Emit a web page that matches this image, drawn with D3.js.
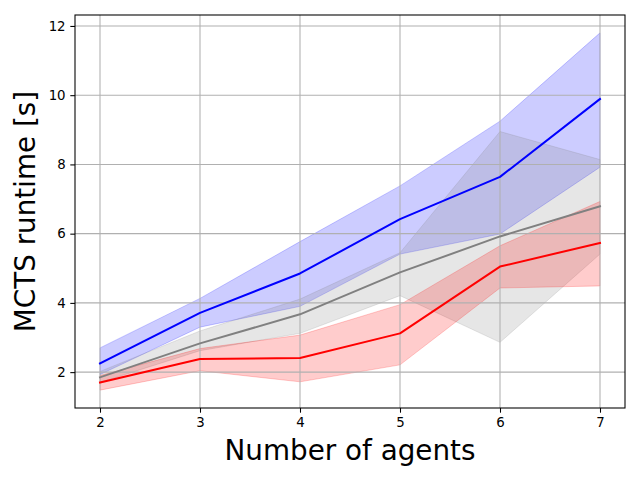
<!DOCTYPE html>
<html>
<head>
<meta charset="utf-8">
<script src="https://cdn.jsdelivr.net/npm/d3@7"></script>
<style>
html,body{margin:0;padding:0;background:#fff;}
svg{display:block;font-family:"DejaVu Sans",sans-serif;}
</style>
</head>
<body>
<div id="chart"></div>
<script>
// ---- data ----
const agents = [2, 3, 4, 5, 6, 7];
const blueMean  = [2.25, 3.71, 4.85, 6.42, 7.64, 9.89];
const blueLow   = [1.93, 3.30, 3.90, 5.41, 5.99, 7.92];
const blueHigh  = [2.70, 4.13, 5.77, 7.38, 9.25, 11.80];
const grayMean  = [1.85, 2.83, 3.67, 4.88, 5.92, 6.79];
const grayLow   = [1.70, 2.62, 3.12, 4.21, 2.86, 5.41];
const grayHigh  = [2.02, 3.19, 4.11, 5.45, 8.95, 8.14];
const redMean   = [1.70, 2.38, 2.41, 3.12, 5.05, 5.73];
const redLow    = [1.48, 2.04, 1.72, 2.21, 4.43, 4.49];
const redHigh   = [1.90, 2.68, 3.07, 3.95, 5.65, 6.93];
const yTicks = [2, 4, 6, 8, 10, 12];
const xTicks = [2, 3, 4, 5, 6, 7];
const xLabel = "Number of agents";
const yLabel = "MCTS runtime [s]";

const series = [
  {mean: blueMean, low: blueLow, high: blueHigh, color: "#0000ff"},
  {mean: grayMean, low: grayLow, high: grayHigh, color: "#808080"},
  {mean: redMean,  low: redLow,  high: redHigh,  color: "#ff0000"}
];

// ---- layout ----
const W = 640, H = 480;
const m = {left: 75, right: 15, top: 15, bottom: 72};
const iw = W - m.left - m.right, ih = H - m.top - m.bottom;

const allY = [].concat(blueLow, blueHigh, grayLow, grayHigh, redLow, redHigh);
const yMin = d3.min(allY), yMax = d3.max(allY);
const yPad = (yMax - yMin) * 0.05;
const xMin = d3.min(agents), xMax = d3.max(agents);
const xPad = (xMax - xMin) * 0.05;

const x = d3.scaleLinear().domain([xMin - xPad, xMax + xPad]).range([0, iw]);
const y = d3.scaleLinear().domain([yMin - yPad, yMax + yPad]).range([ih, 0]);

const svg = d3.select("#chart").append("svg").attr("width", W).attr("height", H);
const g = svg.append("g").attr("transform", `translate(${m.left},${m.top})`);

// bands
const area = d3.area()
  .x((d, i) => x(agents[i]))
  .y0(d => y(d[0]))
  .y1(d => y(d[1]));
series.forEach(s => {
  const pts = agents.map((a, i) => [s.low[i], s.high[i]]);
  g.append("path")
    .attr("d", area(pts))
    .attr("fill", s.color).attr("fill-opacity", 0.2)
    .attr("stroke", s.color).attr("stroke-opacity", 0.2).attr("stroke-width", 1);
});

// grid (drawn above bands, below lines as in matplotlib)
const grid = g.append("g");
grid.selectAll("line.gx").data(xTicks).enter().append("line")
  .attr("x1", d => x(d)).attr("x2", d => x(d)).attr("y1", 0).attr("y2", ih)
  .attr("stroke", "#b0b0b0").attr("stroke-width", 1.07);
grid.selectAll("line.gy").data(yTicks).enter().append("line")
  .attr("y1", d => y(d)).attr("y2", d => y(d)).attr("x1", 0).attr("x2", iw)
  .attr("stroke", "#b0b0b0").attr("stroke-width", 1.07);

// mean lines
const line = d3.line().x((d, i) => x(agents[i])).y(d => y(d));
series.forEach(s => {
  g.append("path").attr("d", line(s.mean))
    .attr("fill", "none").attr("stroke", s.color).attr("stroke-width", 2)
    .attr("stroke-linejoin", "round").attr("stroke-linecap", "square");
});

// axes
const xAxis = d3.axisBottom(x).tickValues(xTicks).tickFormat(d3.format("d")).tickSize(4.7).tickPadding(4.7);
const yAxis = d3.axisLeft(y).tickValues(yTicks).tickFormat(d3.format("d")).tickSize(4.7).tickPadding(4.7);
const gx = g.append("g").attr("transform", `translate(0,${ih})`).call(xAxis);
const gy = g.append("g").call(yAxis);
[gx, gy].forEach(a => {
  a.select(".domain").remove();
  a.selectAll("line").attr("stroke", "#000").attr("stroke-width", 1.07);
  a.selectAll("text").attr("fill", "#000").style("font-size", "13.33px").style("font-family", "DejaVu Sans");
});

// frame
g.append("rect").attr("x", 0).attr("y", 0).attr("width", iw).attr("height", ih)
  .attr("fill", "none").attr("stroke", "#000").attr("stroke-width", 1.07);

// labels
svg.append("text").attr("x", m.left + iw / 2).attr("y", 460)
  .attr("text-anchor", "middle").style("font-size", "27.8px").attr("fill", "#000")
  .text(xLabel);
svg.append("text")
  .attr("transform", `translate(35,${m.top + ih / 2}) rotate(-90)`)
  .attr("text-anchor", "middle").style("font-size", "27.8px").attr("fill", "#000")
  .text(yLabel);
</script>
</body>
</html>
